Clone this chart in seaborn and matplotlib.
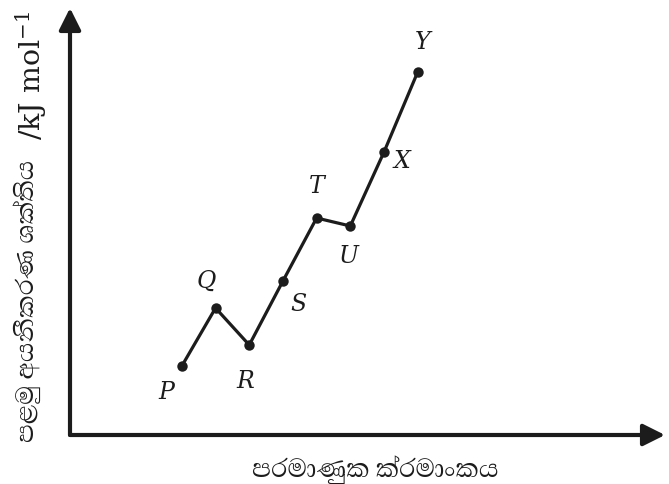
import matplotlib
matplotlib.use("Agg")
import matplotlib.pyplot as plt
import seaborn as sns
import pandas as pd

# Elements in order of atomic number and their first ionization energies (relative)
labels = ["P", "Q", "R", "S", "T", "U", "X", "Y"]
atomic_number = [1, 2, 3, 4, 5, 6, 7, 8]
energy = [69, 127, 90, 154, 217, 209, 283, 363]

x_title = "පරමාණුක ක්රමාංකය"
y_title_si = "පළමු අයනීකරණ ශක්තිය"
y_title_unit = "/kJ mol$^{-1}$"

sns.set_theme(style="white")
plt.rcParams["font.family"] = ["Abhaya Libre", "DejaVu Sans"]
plt.rcParams["mathtext.fontset"] = "dejavuserif"

ink = "#1c1c1c"
fig = plt.figure(figsize=(6.69, 4.84), dpi=100)
ax = fig.add_axes([70 / 669, 49 / 484, 595 / 669, 427 / 484])

df = pd.DataFrame({"n": atomic_number, "E": energy, "label": labels})
sns.lineplot(data=df, x="n", y="E", ax=ax, color=ink, linewidth=2.3,
             marker="o", markersize=7.5, markeredgewidth=0, sort=False)

ax.set_xlim(-2.32, 15.34)
ax.set_ylim(0, 427)
for s in ax.spines.values():
    s.set_visible(False)
ax.set_xticks([])
ax.set_yticks([])
ax.set_xlabel("")
ax.set_ylabel("")

# axes drawn as arrows
arrow = dict(arrowstyle="-|>,head_length=1.1,head_width=0.55", color=ink,
             lw=3.0, shrinkA=0, shrinkB=0)
ax.annotate("", xy=(1.0, 0), xytext=(0, 0), xycoords="axes fraction",
            textcoords="axes fraction", arrowprops=arrow, annotation_clip=False)
ax.annotate("", xy=(0, 1.0), xytext=(0, 0), xycoords="axes fraction",
            textcoords="axes fraction", arrowprops=arrow, annotation_clip=False)

# point labels (offsets in points)
offsets = {"P": (-11, -19), "Q": (-7, 19), "R": (-3, -26), "S": (11, -17),
           "T": (0, 23), "U": (-1.5, -22), "X": (13, -7), "Y": (3.5, 21)}
for lab, n, e in zip(labels, atomic_number, energy):
    dx, dy = offsets[lab]
    ax.annotate(lab, xy=(n, e), xytext=(dx, dy), textcoords="offset points",
                ha="center", va="center", fontsize=17, style="italic",
                family=["DejaVu Serif"], color=ink)

fig.text(375 / 669, 1 - 470 / 484, x_title, ha="center", va="center",
         fontsize=23.5, color=ink)
fig.text(27 / 669, 1 - 442 / 484, y_title_si, ha="center", va="bottom",
         rotation=90, fontsize=23, color=ink)
fig.text(31 / 669, 1 - 140 / 484, y_title_unit, ha="center", va="bottom",
         rotation=90, fontsize=20.5, family=["DejaVu Serif"], color=ink)

fig.savefig("out.png", dpi=100)
